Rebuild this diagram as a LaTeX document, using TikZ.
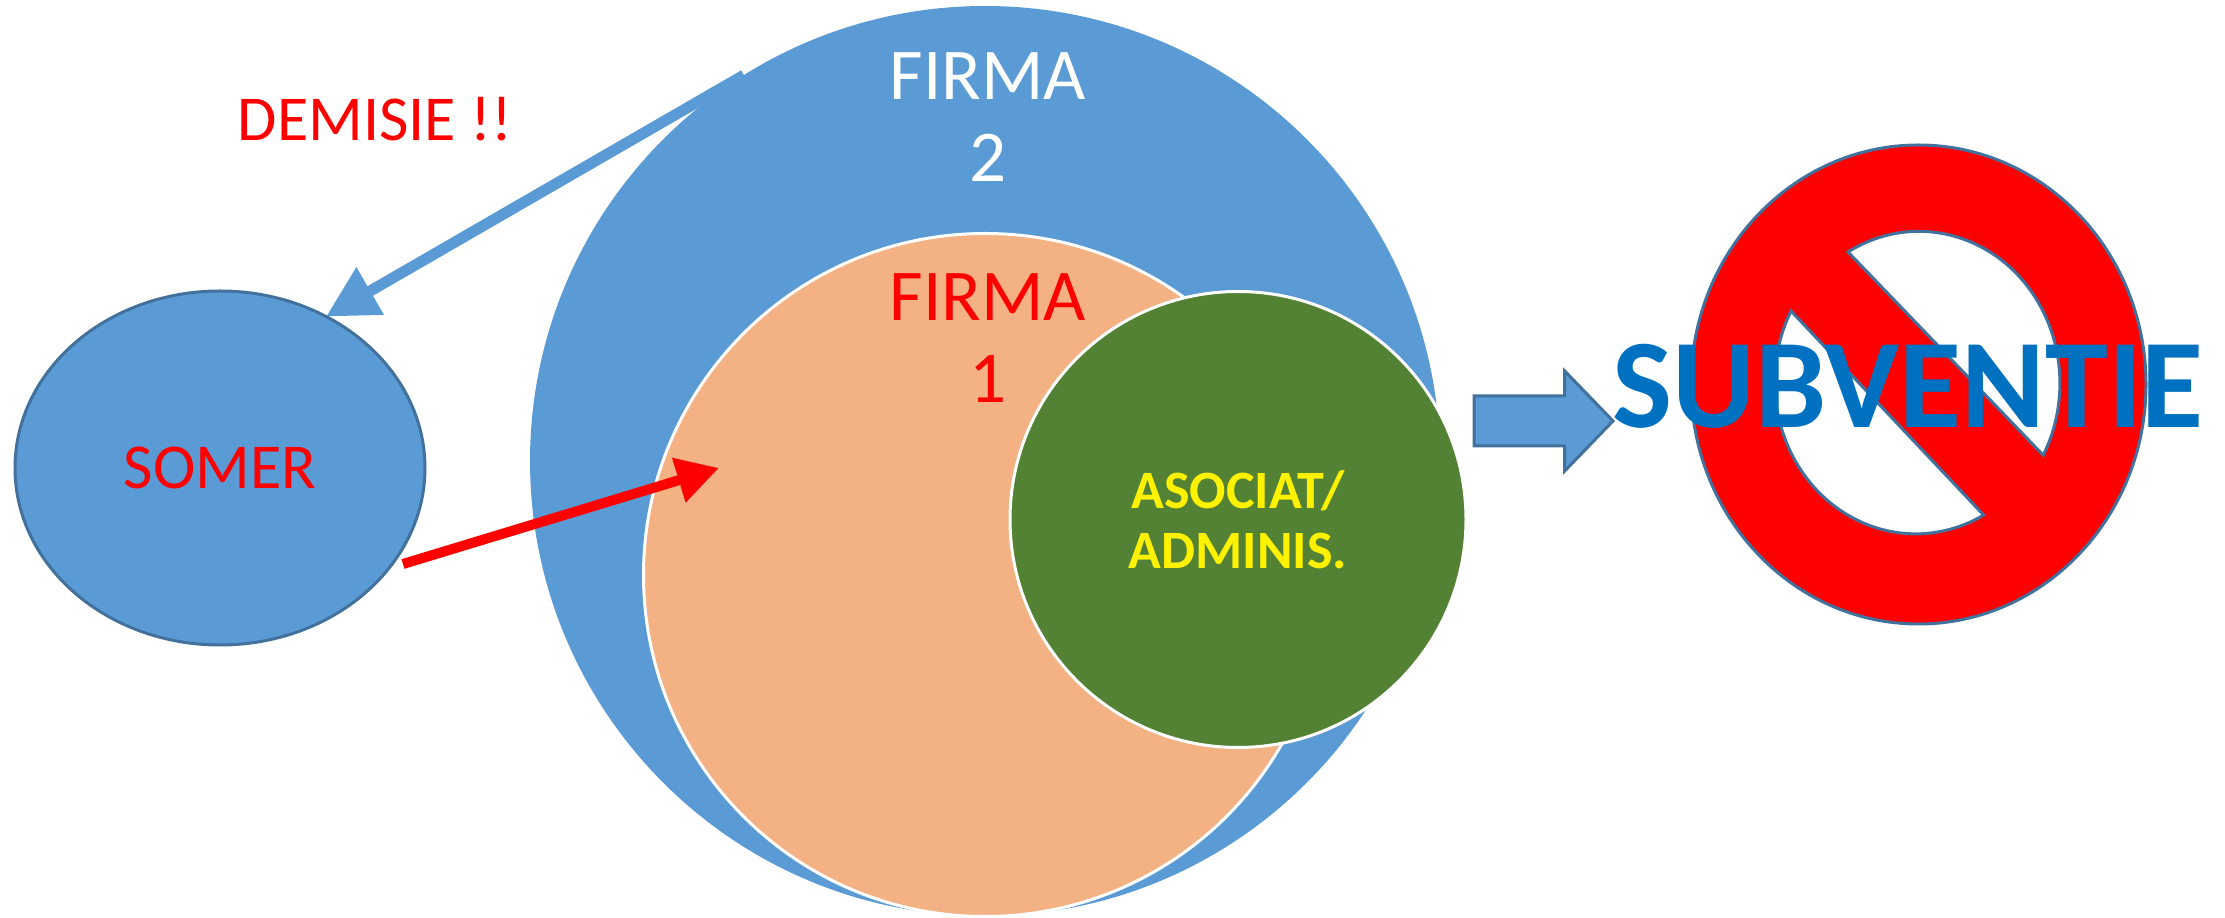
\documentclass[tikz,border=0pt]{standalone}
\usepackage{fontspec}
\setmainfont{Carlito}
\usetikzlibrary{arrows.meta, shapes.geometric, shapes.arrows, positioning}
\definecolor{firmablue}{HTML}{5B9BD5}
\definecolor{edgeblue}{HTML}{41719C}
\definecolor{firmaorange}{HTML}{F4B183}
\definecolor{asocgreen}{HTML}{548235}
\definecolor{subvblue}{HTML}{0070C0}

\begin{document}
\begin{tikzpicture}[x=1pt,y=1pt, inner sep=0pt, outer sep=0pt,
    firma/.style={circle, minimum size=#1},
    lab/.style={font=\fontsize{64}{70}\selectfont, text=red},
    firmalab/.style={font=\fontsize{73}{82}\selectfont, align=center}]
    \useasboundingbox (0,0) rectangle (2225,918);
    % the firms
    \node[firma=910pt, fill=firmablue] (firma2) at (985,457) {};
    \node[firma=683pt, fill=firmaorange, draw=white, line width=3pt] (firma1) at (985,343) {};
    \node[firma=456pt, fill=asocgreen, draw=white, line width=3pt, text=yellow, align=center,
        font=\fontsize{54}{60}\selectfont\bfseries] (asociat) at (1238,398.5) {ASOCIAT/\\ADMINIS.};
    \node[firmalab, text=white] (firma2lab) at (988,801) {FIRMA\\2};
    \node[firmalab, text=red] (firma1lab) at (988,579.5) {FIRMA\\1};
    % somer
    \node[ellipse, minimum width=410pt, minimum height=354pt, fill=firmablue, draw=edgeblue, line width=3pt, lab] (somer) at (220,450) {SOMER};
    \node[lab] (demisie) at (375,798.5) {DEMISIE !!};
    \coordinate (somerout) at (403,354);
    \coordinate (firma1in) at (719,450);
    \draw[firmablue, line width=11pt, -{Triangle[length=51pt,width=52pt]}] (firma2.122) -- (somer.55);
    \draw[red, line width=10pt, -{Triangle[length=42pt,width=44pt]}] (somerout) -- (firma1in);
    % no subsidy
    \node[single arrow, text height=47pt, text depth=0pt, minimum height=139pt, single arrow head extend=25pt,
        single arrow head indent=0pt, single arrow tip angle=92, fill=firmablue, draw=edgeblue, line width=3pt,
        anchor=tail] (subvarrow) at (1474,497) {};
    \filldraw[red, draw=edgeblue, line width=3pt, even odd rule]
        (1918.5,533.5) ellipse [x radius=227.5, y radius=239.5]
        (1848,666) arc [start angle=120.2, end angle=-28.2, x radius=141, y radius=152] -- cycle
        (1791,607) arc [start angle=152.2, end angle=298.8, x radius=141, y radius=152] -- cycle;
    \node[text=subvblue, font=\fontsize{127}{130}\selectfont\bfseries] (subventie) at (1908,532) {SUBVENTIE};
\end{tikzpicture}
\end{document}
